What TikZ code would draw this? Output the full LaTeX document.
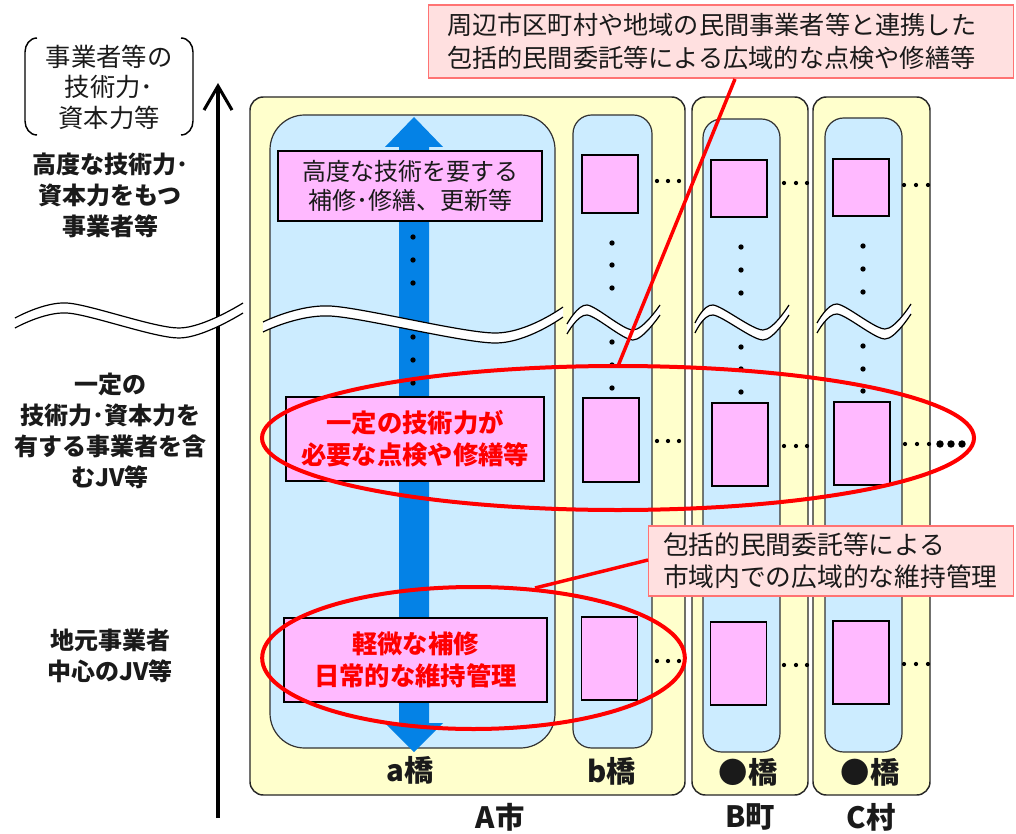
\documentclass[tikz,border=0pt]{standalone}
\usepackage{fontspec}
\setmainfont{Noto Sans CJK JP}
\usetikzlibrary{arrows.meta,shapes.geometric}
\definecolor{ylw}{HTML}{FFFFCC}
\definecolor{lblue}{HTML}{CCECFF}
\definecolor{pnk}{HTML}{FFB9FF}
\definecolor{arrblue}{HTML}{0482E6}
\definecolor{callfill}{HTML}{FFE0E0}
\definecolor{callline}{HTML}{FF7373}
\definecolor{txt}{HTML}{1A1A1A}
\newcommand{\wband}[8]{%
  \fill[white] plot[smooth] coordinates {(#1,#2) (#3,#4) (#5,#6) (#7,#8)} -- plot[smooth] coordinates {(#7,#8+10) (#5,#6+10) (#3,#4+10) (#1,#2+10)} -- cycle;
  \draw[waveline] plot[smooth] coordinates {(#1,#2) (#3,#4) (#5,#6) (#7,#8)};
  \draw[waveline] plot[smooth] coordinates {(#1,#2+10) (#3,#4+10) (#5,#6+10) (#7,#8+10)};
}
\tikzset{
  ybox/.style={draw=black!85, line width=1.1pt, fill=ylw, rounded corners=10pt},
  bbox/.style={draw=black!80, line width=0.9pt, fill=lblue},
  pbox/.style={draw=black, line width=1.1pt, fill=pnk, inner sep=0pt, align=center},
  sbox/.style={pbox, minimum width=42pt},
  waveline/.style={draw=black, line width=0.9pt},
  sidelbl/.style={font=\fontsize{18}{23.25}\selectfont\bfseries, align=center, text=txt, inner sep=0pt},
  collbl/.style={font=\fontsize{22}{24}\selectfont\bfseries, text=txt, inner sep=0pt},
  redtxt/.style={font=\fontsize{19}{24}\selectfont\bfseries, text=red},
  callout/.style={draw=callline, line width=1pt, fill=callfill, align=left, text=txt, inner ysep=0pt},
  redline/.style={draw=red, line width=2.6pt},
  redell/.style={draw=red, line width=3pt, ellipse, inner sep=0pt, outer sep=0pt},
}
\begin{document}
\begin{tikzpicture}[x=0.75pt,y=-0.75pt]
\useasboundingbox (0,0) rectangle (1016,834);

% containers
\draw[ybox] (250,97) rectangle (685,795);
\draw[ybox] (692,97) rectangle (808,795);
\draw[ybox] (813,97) rectangle (930,795);
\draw[bbox, rounded corners=26pt] (270,115) rectangle (555,748);
\draw[bbox, rounded corners=14pt] (573,115) rectangle (652,748);
\draw[bbox, rounded corners=14pt] (703,119) rectangle (780,752);
\draw[bbox, rounded corners=14pt] (825,118) rectangle (902,752);

% blue double arrow
\fill[arrblue] (414,117) -- (443,147) -- (429,147) -- (429,723) -- (443,723) -- (414,752)
  -- (385,723) -- (399,723) -- (399,147) -- (385,147) -- cycle;

% pink boxes in a
\node (pTop) [pbox, minimum width=198pt, minimum height=52.5pt, font=\fontsize{18}{21.5}\selectfont, text=txt] at (410,186) {高度な技術を要する\\補修･修繕、更新等};
\node (pMid) [pbox, minimum width=193.5pt, minimum height=63pt, redtxt] at (415,439) {一定の技術力が\\必要な点検や修繕等};
\node (pBot) [pbox, minimum width=197pt, minimum height=63pt, redtxt] at (415.5,660) {軽微な補修\\日常的な維持管理};

% small boxes
\node (bT) [sbox, minimum height=43.5pt] at (610,184) {};
\node (bM) [sbox, minimum height=63pt] at (611,440) {};
\node (bB) [sbox, minimum height=62pt] at (609.5,658.5) {};
\node (BT) [sbox, minimum height=43pt] at (739,188.5) {};
\node (BM) [sbox, minimum height=62pt] at (740,444.5) {};
\node (BB) [sbox, minimum height=62pt] at (738.5,663.5) {};
\node (CT) [sbox, minimum height=43pt] at (861,187.5) {};
\node (CM) [sbox, minimum height=62pt] at (862,443.5) {};
\node (CB) [sbox, minimum height=62pt] at (861,662.5) {};

% vertical dots
\foreach \y in {237,260,283,337,360,383} \fill (413,\y) circle[radius=2pt];
\foreach \y in {243,265,288,342,365,388} \fill (612,\y) circle[radius=2pt];
\foreach \y in {247,270,293,347,369,392} \fill (741,\y) circle[radius=2pt];
\foreach \y in {246,269,292,346,369,391} \fill (863,\y) circle[radius=2pt];

% horizontal dots
\foreach \x in {657,668,679} {\fill (\x,181) circle[radius=1.6pt]; \fill (\x,441) circle[radius=1.6pt]; \fill (\x,661) circle[radius=1.6pt];}
\foreach \x in {784,796,807} {\fill (\x,183) circle[radius=1.6pt]; \fill (\x,446) circle[radius=1.6pt]; \fill (\x,665) circle[radius=1.6pt];}
\foreach \x in {904,916,928} {\fill (\x,185) circle[radius=1.6pt]; \fill (\x+1,444) circle[radius=1.6pt]; \fill (\x,664) circle[radius=1.6pt];}
\foreach \x in {940,951,962} \fill (\x,444) circle[radius=2.8pt];

% column labels
\node (la) [collbl] at (410,770) {a橋};
\node (lb) [collbl] at (612,771) {b橋};
\node (lB) [collbl] at (748,772) {●橋};
\node (lC) [collbl] at (870,772) {●橋};
\node (nA) [collbl] at (500,817) {A市};
\node (nB) [collbl] at (750,817) {B町};
\node (nC) [collbl] at (871,817) {C村};

% left axis
\coordinate (axbot) at (218,818);
\coordinate (axtop) at (218,83);
\draw[line width=2.3pt, -{Straight Barb[length=18pt,width=21pt]}] (axbot) -- (axtop);

% bracket label
\node (brk) [font=\fontsize{19}{22.9}\selectfont, align=center, text=txt, inner sep=0pt] at (109,87) {事業者等の\\技術力･\\資本力等};
\draw[line width=1.1pt] (37,38) to[out=180,in=90] (25,52) -- (25,121) to[out=-90,in=180] (37,135);
\draw[line width=1.1pt] (181,38) to[out=0,in=90] (193,52) -- (193,121) to[out=-90,in=0] (181,135);

% side labels
\node (s1) [sidelbl] at (110,195) {高度な技術力･\\資本力をもつ\\事業者等};
\node (s2) [sidelbl] at (110,431) {一定の\\技術力･資本力を\\有する事業者を含\\むJV等};
\node (s3) [sidelbl] at (110,656) {地元事業者\\中心のJV等};

% waves
\wband{15}{318}{67}{303}{179}{328}{243}{303}
\wband{263}{322}{330}{306}{495}{333}{563}{307}
\wband{567}{324}{587}{305}{633}{330}{660}{305}
\wband{695}{323}{713}{305}{763}{330}{789}{305}
\wband{817}{323}{837}{304}{885}{329}{911}{304}

% ellipses
\node (ellM) [redell, minimum width=534pt, minimum height=108pt] at (618,438) {};
\node (ellB) [redell, minimum width=317pt, minimum height=106.5pt] at (473.5,658) {};

% callouts
\node (call1) [callout, text width=411pt, inner xsep=14pt, minimum height=54.75pt, font=\fontsize{18.9}{24.75}\selectfont] at (721,41.5) {周辺市区町村や地域の民間事業者等と連携した\\包括的民間委託等による広域的な点検や修繕等};
\node (call2) [callout, text width=252pt, inner xsep=11pt, minimum height=52.5pt, font=\fontsize{19.3}{24}\selectfont] at (831,561) {包括的民間委託等による\\市域内での広域的な維持管理};
\coordinate (p1) at (735,79);
\coordinate (p2s) at (648,560);
\coordinate (p2e) at (535,588);
\draw[redline] (p1) -- (ellM.north);
\draw[redline] (p2s) -- (p2e);
\end{tikzpicture}
\end{document}
